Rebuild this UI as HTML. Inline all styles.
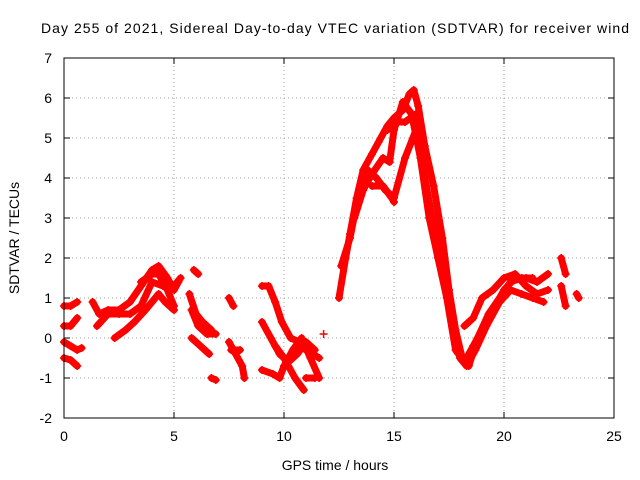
<!DOCTYPE html>
<html><head><meta charset="utf-8"><style>
html,body{margin:0;padding:0;background:#fff}
svg{display:block;font-family:"Liberation Sans",sans-serif}
</style></head><body>
<svg id="chart" width="640" height="480">
<text x="335" y="33" text-anchor="middle" font-size="14" textLength="588">Day 255 of 2021, Sidereal Day-to-day VTEC variation (SDTVAR) for receiver wind</text>
<text x="335" y="470" text-anchor="middle" font-size="14">GPS time / hours</text>
<text transform="translate(19,238) rotate(-90)" text-anchor="middle" font-size="14">SDTVAR / TECUs</text>
<g id="grid"></g><g id="ticks"></g><g id="marks"></g>
<rect x="64" y="58" width="550" height="360" fill="none" stroke="#000" stroke-width="1"/>
</svg>
<script>
const xTicks=[0,5,10,15,20,25];
const yTicks=[-2,-1,0,1,2,3,4,5,6,7];
const tracks=[
[[0,0.8],[0.3,0.8],[0.6,0.9]],
[[0,0.3],[0.3,0.3],[0.6,0.5]],
[[0,-0.1],[0.3,-0.2],[0.6,-0.3],[0.8,-0.25]],
[[0,-0.5],[0.3,-0.55],[0.6,-0.7]],
[[1.3,0.9],[1.6,0.6],[2,0.7],[2.5,0.7],[3,0.9],[3.5,1.3],[4,1.7],[4.3,1.8],[4.7,1.5],[5,1.2],[5.2,1.4]],
[[1.5,0.3],[2,0.6],[2.5,0.6],[3,0.6],[3.5,0.8],[4,1.4],[4.5,1.3],[5,1.3],[5.3,1.5]],
[[2.3,0],[2.8,0.2],[3.2,0.4],[3.7,0.7],[4,0.9],[4.3,1.1],[4.6,0.9],[5,0.7]],
[[3.5,1.4],[4,1.6],[4.3,1.6],[4.7,1.2],[5,0.8]],
[[5.9,1.7],[6.1,1.6]],
[[5.7,1.1],[6,0.6],[6.3,0.4],[6.7,0.2]],
[[5.8,0.7],[6.1,0.3],[6.5,0.1],[6.9,0.1]],
[[5.8,0],[6.2,-0.2],[6.6,-0.4]],
[[6.7,-1],[6.9,-1.05]],
[[7.5,1],[7.7,0.8]],
[[7.5,-0.1],[7.8,-0.4],[8.1,-0.7],[8.2,-1]],
[[7.6,-0.3],[8,-0.3]],
[[9,1.3],[9.3,1.3],[9.6,0.9],[9.9,0.4],[10.3,0],[10.7,-0.1],[11,-0.3],[11.3,-0.4],[11.6,-0.5]],
[[9,0.4],[9.4,0],[9.8,-0.4],[10.2,-0.6],[10.6,-0.4],[11,-0.1],[11.4,-0.3]],
[[9,-0.8],[9.5,-0.9],[9.8,-1],[10,-0.7],[10.4,-0.3],[10.8,0],[11.2,-0.5],[11.6,-1]],
[[9.6,-0.2],[10,-0.5],[10.5,-1],[10.9,-1.3]],
[[11,-1],[11.4,-1]],
[[11.8,0.1]],
[[12.5,1],[12.8,2],[13,2.6],[13.3,3.5],[13.6,4.2],[14,4.6],[14.3,4.9],[14.7,5.3],[15,5.5],[15.4,5.7],[15.7,6.1],[15.9,6.2],[16.1,5.8],[16.4,4.8],[16.8,3.8],[17.2,2.5],[17.5,1.2],[17.8,0.2],[18.1,-0.5],[18.4,-0.7],[18.8,0],[19.3,0.6],[19.8,1],[20.3,1.4],[20.8,1.5],[21.3,1.5]],
[[12.6,1.8],[13,2.5],[13.4,3.6],[13.8,4.2],[14.2,4.0],[14.6,3.7],[15,3.5],[15.5,4.5],[16,5.2],[16.4,4],[16.8,2.8],[17.2,1.6],[17.5,0.8],[17.8,0],[18,-0.5],[18.3,-0.7],[18.7,-0.3],[19.2,0.3],[19.8,0.9],[20.3,1.2],[20.8,1.1],[21.3,1.0],[21.8,0.9]],
[[13.2,3],[13.6,3.7],[14,4.1],[14.5,4.5],[14.8,4.4],[15,5.2],[15.4,5.9],[15.8,5.6],[16.2,4.5],[16.6,3],[17,2],[17.4,1],[17.8,-0.3],[18.2,-0.6],[18.6,-0.2],[19,0.2],[19.5,0.7],[20,1.2],[20.5,1.5],[21,1.5],[21.5,1.4],[22,1.6]],
[[14,3.8],[14.5,3.8],[14.9,3.5],[15,3.4]],
[[14.7,5.2],[15,5.4],[15.5,5.4],[16,5.6],[16.3,5]],
[[18.2,0.3],[18.6,0.5],[19,1],[19.5,1.2],[20,1.5],[20.5,1.6],[21,1.3],[21.5,1.1],[22,1.2]],
[[22.6,2],[22.8,1.6]],
[[22.6,1.3],[22.8,0.8]],
[[23.3,1.1],[23.4,1.0]]
];
const NS="http://www.w3.org/2000/svg";
const X=h=>64+h*22, Y=v=>338-v*40;
const grid=document.getElementById('grid'),ticks=document.getElementById('ticks'),marks=document.getElementById('marks');
function mk(t,a,p){const e=document.createElementNS(NS,t);for(const k in a)e.setAttribute(k,a[k]);p.appendChild(e);return e;}
xTicks.forEach(t=>{
  if(t>0&&t<25){const g=mk('line',{x1:X(t),x2:X(t),y1:58,y2:418,stroke:'#a0a0a0','stroke-dasharray':'1,3'},grid);
  
  }
  const l=mk('text',{x:X(t),y:441,'text-anchor':'middle','font-size':14},ticks);l.textContent=t;
  
  
  mk('line',{x1:X(t),x2:X(t),y1:418,y2:412,stroke:'#000'},ticks);
  mk('line',{x1:X(t),x2:X(t),y1:58,y2:64,stroke:'#000'},ticks);
});
yTicks.forEach(t=>{
  if(t>-2&&t<7){const g=mk('line',{x1:64,x2:614,y1:Y(t),y2:Y(t),stroke:'#a0a0a0','stroke-dasharray':'1,3'},grid);
  
  }
  const l=mk('text',{x:52,y:Y(t)+5,'text-anchor':'end','font-size':14},ticks);l.textContent=t;
  
  
  mk('line',{x1:64,x2:70,y1:Y(t),y2:Y(t),stroke:'#000'},ticks);
  mk('line',{x1:614,x2:608,y1:Y(t),y2:Y(t),stroke:'#000'},ticks);
});
tracks.forEach(tr=>{
  if(tr.length>1){const p=mk('polyline',{points:tr.map(d=>X(d[0])+','+Y(d[1])).join(' '),fill:'none',stroke:'#f00','stroke-width':7,'stroke-linejoin':'round','stroke-linecap':'round'},marks);
  
  }
  tr.forEach(d=>{
    const m=mk('path',{d:`M${X(d[0])-4},${Y(d[1])}h8M${X(d[0])},${Y(d[1])-4}v8`,stroke:'#f00','stroke-width':1.5},marks);
    
    
  });
});
</script>
</body></html>
